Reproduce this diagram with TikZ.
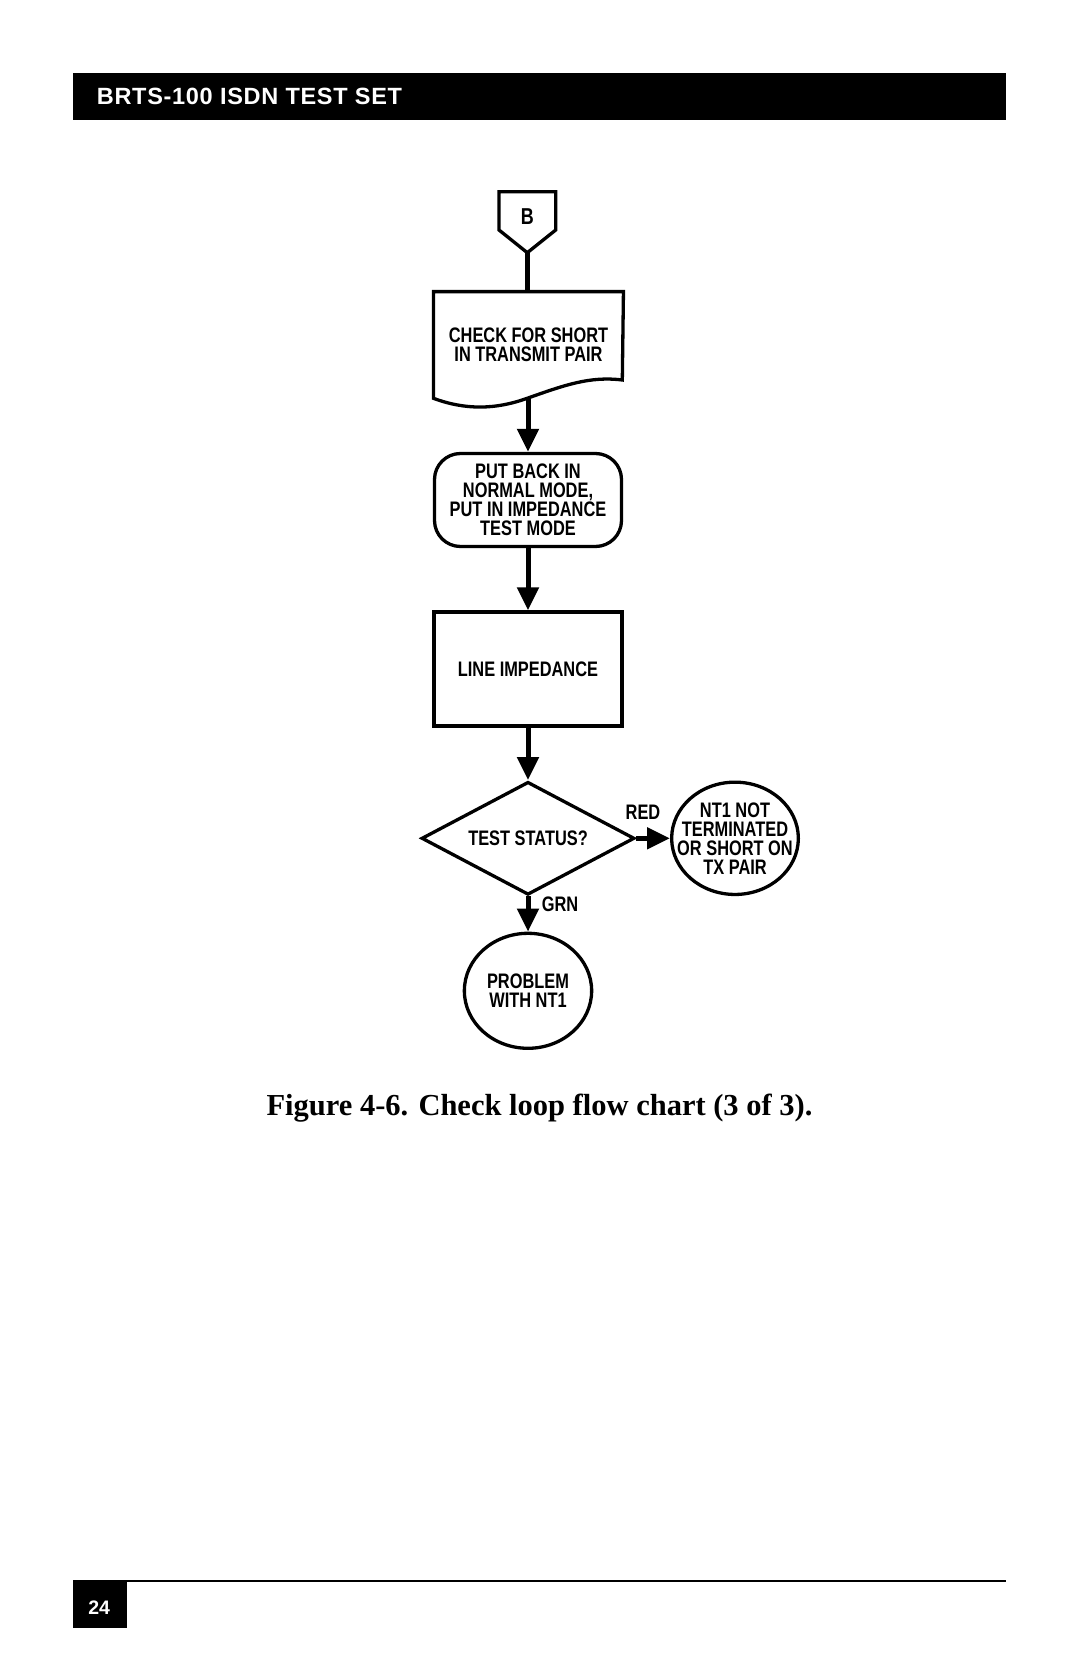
\documentclass[tikz,border=0pt]{standalone}
\usepackage{fontspec}
\setmainfont{Liberation Serif}
\newfontfamily\chartfont{Liberation Sans}[FakeStretch=0.78]
\newfontfamily\headfont{Liberation Sans}[LetterSpace=3]
\newfontfamily\pagefont{Liberation Sans}
\usetikzlibrary{shapes.geometric,arrows.meta}
\newcommand{\charttext}{\chartfont\bfseries\fontsize{21}{19}\selectfont}

\begin{document}
\begin{tikzpicture}[x=1pt, y=-1pt,
        box/.style={draw, line width=3.3pt, font=\charttext, align=center, inner sep=0pt},
        process/.style={box, rectangle, minimum width=188pt, minimum height=114pt},
        terminal/.style={box, rounded corners=26pt, minimum width=187pt, minimum height=93pt},
        decision/.style={box, diamond, aspect=1.9, minimum width=213pt, minimum height=113pt},
        result/.style={box, ellipse, inner xsep=-20pt, inner ysep=-10pt},
        branch/.style={font=\charttext, inner sep=0pt},
        outline/.style={line width=3.3pt},
        flow/.style={line width=5pt, -{Triangle[length=23pt,width=21pt]}}]
        \useasboundingbox (0,0) rectangle (1080,1669);

        \fill (73.3,73.3) rectangle (1006,120);
        \node[anchor=base west, text=white, inner sep=0pt,
            font=\headfont\bfseries\fontsize{23.5}{26}\selectfont] (title) at (96.7,104.3) {BRTS-100 ISDN TEST SET};

        \node[font=\chartfont\bfseries\fontsize{23}{23}\selectfont, anchor=base, inner sep=0pt] (entry) at (527.3,225) {B};
        \coordinate (entrytip) at (527.3,252.7);
        \draw[outline] (499,191.7) -- (555.7,191.7) -- (555.7,230) -- (entrytip) -- (499,230) -- cycle;

        \node[box, draw=none, minimum width=186.6pt, minimum height=103.4pt] (check) at (528.5,345) {CHECK FOR SHORT\\IN TRANSMIT PAIR};
        \coordinate (wave) at (528,398);
        \draw[outline] (check.south west) -- (check.north west) -- (check.north east) -- (622.3,380)
            .. controls (590,376) and (565,385) .. (wave)
            .. controls (495,410) and (465,410) .. (check.south west) -- cycle;

        \node[terminal] (putback) at (528,500) {PUT BACK IN\\NORMAL MODE,\\PUT IN IMPEDANCE\\TEST MODE};
        \node[process] (impedance) at (528,669) {LINE IMPEDANCE};
        \node[decision] (status) at (528,838.3) {TEST STATUS?};
        \node[result, minimum width=126.7pt, minimum height=112.3pt] (nt1) at (735,838.3) {NT1 NOT\\TERMINATED\\OR SHORT ON\\TX PAIR};
        \node[result, minimum width=127.3pt, minimum height=115pt] (problem) at (528,990.8) {PROBLEM\\WITH NT1};
        \node[branch] (red) at (643,812.5) {RED};
        \node[branch] (grn) at (560,904) {GRN};

        \draw[line width=5pt] (entrytip) -- (entrytip |- check.north);
        \draw[flow] (wave) -- (wave |- putback.north);
        \draw[flow] (putback) -- (impedance);
        \draw[flow] (impedance) -- (status);
        \draw[flow] (status) -- (nt1);
        \draw[flow] (status) -- (problem);

        \node[anchor=base, inner sep=0pt, font=\bfseries\fontsize{30.5}{36}\selectfont] (caption) at (539.5,1115) {Figure 4-6. Check loop flow chart (3 of 3).};

        \draw[line width=2pt] (73.3,1580.7) -- (1006,1580.7);
        \fill (73.3,1580) rectangle (126.7,1627.7);
        \node[anchor=base, text=white, inner sep=0pt, font=\pagefont\bfseries\fontsize{19.5}{22}\selectfont] (page) at (99.2,1614.3) {24};
    \end{tikzpicture}
\end{document}
